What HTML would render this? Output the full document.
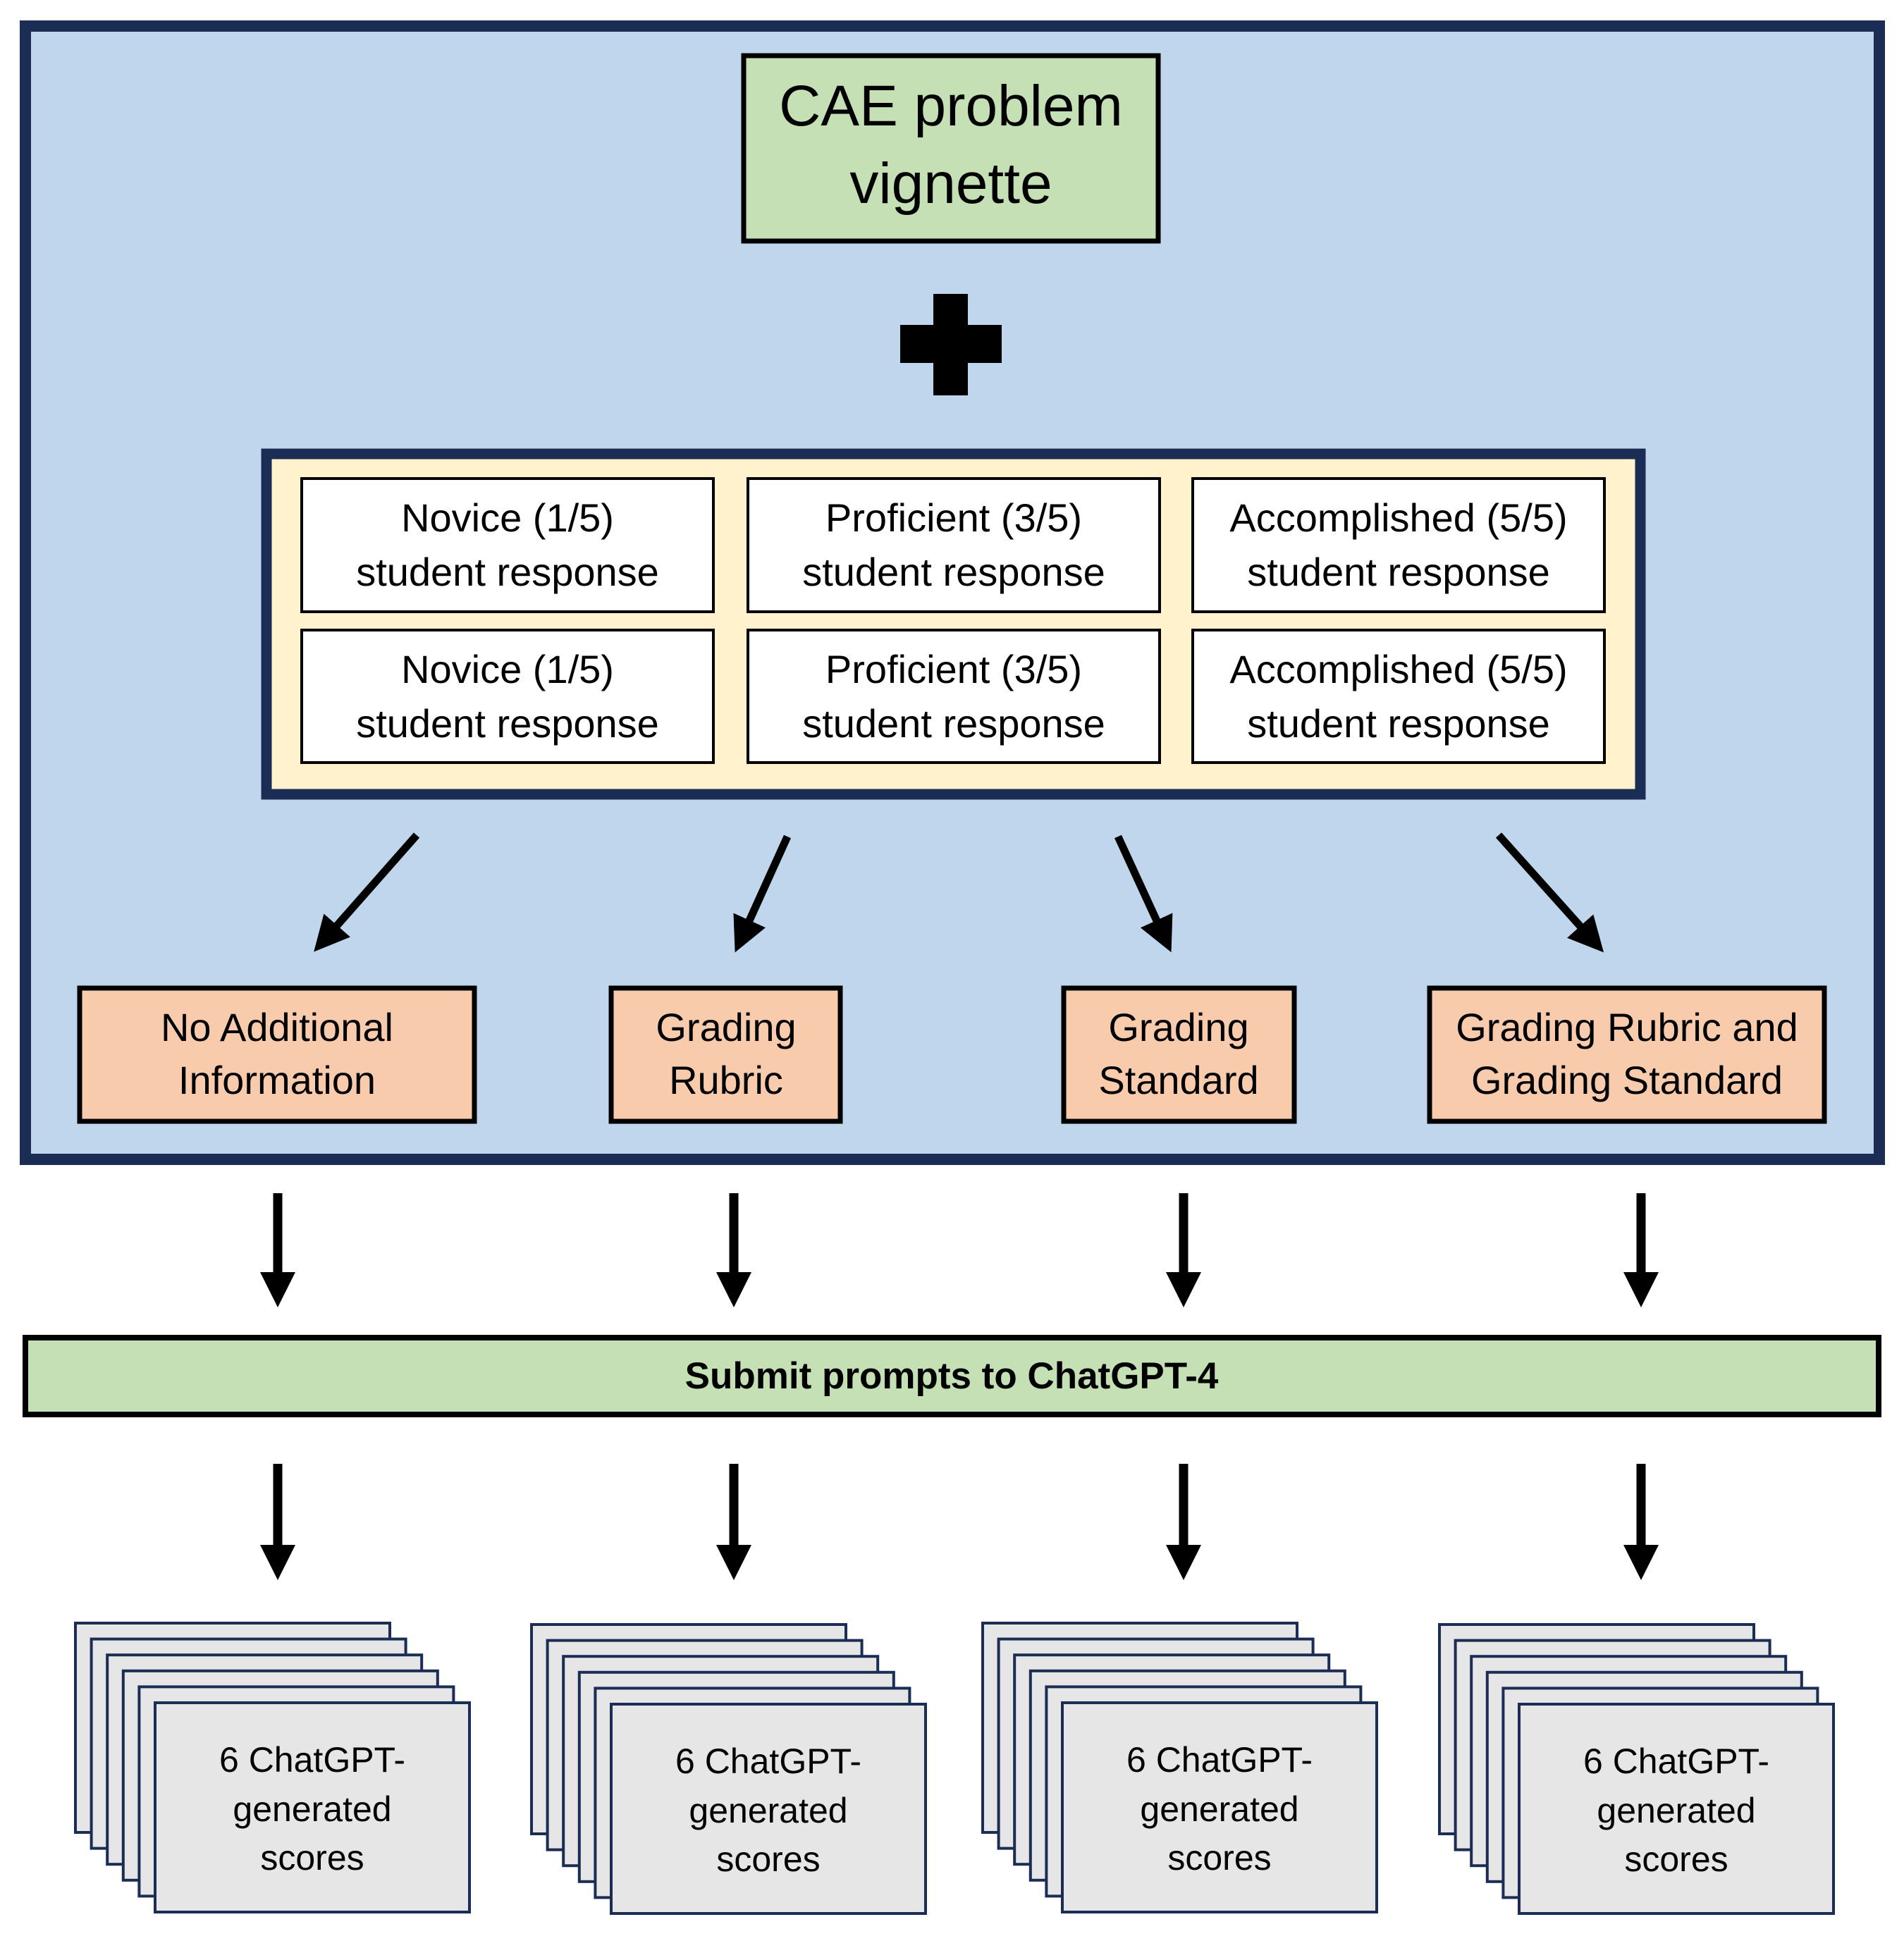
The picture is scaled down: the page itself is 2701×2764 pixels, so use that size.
<!DOCTYPE html>
<html><head><meta charset="utf-8"><style>
html,body{margin:0;padding:0;background:#fff;width:2701px;height:2764px;overflow:hidden}
svg{display:block}
text{font-family:"Liberation Sans",sans-serif;fill:#000}
</style></head><body>
<svg width="2701" height="2764" viewBox="0 0 2701 2764" xmlns="http://www.w3.org/2000/svg">
<defs>
<marker id="ah" markerUnits="userSpaceOnUse" markerWidth="60" markerHeight="60" refX="20" refY="25" orient="auto">
<path d="M0,0 L50,25 L0,50 z" fill="#000"/>
</marker>
<g id="stk" fill="#e7e6e6" stroke="#1c2d55" stroke-width="4">
<rect x="0" y="0" width="446" height="297"/>
<rect x="22.6" y="22.6" width="446" height="297"/>
<rect x="45.2" y="45.2" width="446" height="297"/>
<rect x="67.8" y="67.8" width="446" height="297"/>
<rect x="90.4" y="90.4" width="446" height="297"/>
<rect x="113" y="113" width="446" height="297"/>
</g>
</defs>
<rect x="36" y="37" width="2630" height="1608" fill="#c0d6ec" stroke="#1c2d55" stroke-width="16"/>
<rect x="1055" y="79" width="588" height="263" fill="#c5e0b4" stroke="#000" stroke-width="7"/>
<text x="1349" y="178" font-size="82" text-anchor="middle">CAE problem</text>
<text x="1349" y="288" font-size="82" text-anchor="middle">vignette</text>
<rect x="1277" y="461" width="144" height="54" fill="#000"/>
<rect x="1324" y="417" width="49" height="144" fill="#000"/>
<rect x="378" y="644" width="1949" height="483" fill="#fff2cc" stroke="#1c2d55" stroke-width="15"/>
<g fill="#fff" stroke="#000" stroke-width="4">
<rect x="428" y="679" width="584" height="189"/>
<rect x="1061" y="679" width="584" height="189"/>
<rect x="1692" y="679" width="584" height="189"/>
<rect x="428" y="894" width="584" height="188"/>
<rect x="1061" y="894" width="584" height="188"/>
<rect x="1692" y="894" width="584" height="188"/>
</g>
<g font-size="56" text-anchor="middle">
<text x="720" y="754">Novice (1/5)</text><text x="720" y="831">student response</text>
<text x="1353" y="754">Proficient (3/5)</text><text x="1353" y="831">student response</text>
<text x="1984" y="754">Accomplished (5/5)</text><text x="1984" y="831">student response</text>
<text x="720" y="969">Novice (1/5)</text><text x="720" y="1046">student response</text>
<text x="1353" y="969">Proficient (3/5)</text><text x="1353" y="1046">student response</text>
<text x="1984" y="969">Accomplished (5/5)</text><text x="1984" y="1046">student response</text>
</g>
<g stroke="#000" stroke-width="11" marker-end="url(#ah)">
<line x1="591" y1="1185" x2="465" y2="1328"/>
<line x1="1117" y1="1187" x2="1055" y2="1324"/>
<line x1="1586" y1="1187" x2="1649" y2="1324"/>
<line x1="2126" y1="1185" x2="2255" y2="1329"/>
</g>
<g fill="#f8cbad" stroke="#000" stroke-width="7">
<rect x="113" y="1402" width="560" height="189"/>
<rect x="867" y="1402" width="325" height="189"/>
<rect x="1509" y="1402" width="327" height="189"/>
<rect x="2028" y="1402" width="560" height="189"/>
</g>
<g font-size="56" text-anchor="middle">
<text x="393" y="1477">No Additional</text><text x="393" y="1552">Information</text>
<text x="1030" y="1477">Grading</text><text x="1030" y="1552">Rubric</text>
<text x="1672" y="1477">Grading</text><text x="1672" y="1552">Standard</text>
<text x="2308" y="1477">Grading Rubric and</text><text x="2308" y="1552">Grading Standard</text>
</g>
<g stroke="#000" stroke-width="13" marker-end="url(#ah)">
<line x1="394" y1="1693" x2="394" y2="1825"/>
<line x1="1041" y1="1693" x2="1041" y2="1825"/>
<line x1="1679" y1="1693" x2="1679" y2="1825"/>
<line x1="2328" y1="1693" x2="2328" y2="1825"/>
<line x1="394" y1="2077" x2="394" y2="2212"/>
<line x1="1041" y1="2077" x2="1041" y2="2212"/>
<line x1="1679" y1="2077" x2="1679" y2="2212"/>
<line x1="2328" y1="2077" x2="2328" y2="2212"/>
</g>
<rect x="36" y="1898" width="2629" height="109" fill="#c5e0b4" stroke="#000" stroke-width="8"/>
<text x="1350" y="1970" font-size="53" font-weight="bold" text-anchor="middle">Submit prompts to ChatGPT-4</text>
<use href="#stk" x="107" y="2303"/>
<use href="#stk" x="754" y="2305"/>
<use href="#stk" x="1394" y="2303"/>
<use href="#stk" x="2042" y="2305"/>
<g font-size="50" text-anchor="middle">
<text x="443" y="2514">6 ChatGPT-</text><text x="443" y="2584">generated</text><text x="443" y="2653">scores</text>
<text x="1090" y="2516">6 ChatGPT-</text><text x="1090" y="2586">generated</text><text x="1090" y="2655">scores</text>
<text x="1730" y="2514">6 ChatGPT-</text><text x="1730" y="2584">generated</text><text x="1730" y="2653">scores</text>
<text x="2378" y="2516">6 ChatGPT-</text><text x="2378" y="2586">generated</text><text x="2378" y="2655">scores</text>
</g>
</svg>
</body></html>
